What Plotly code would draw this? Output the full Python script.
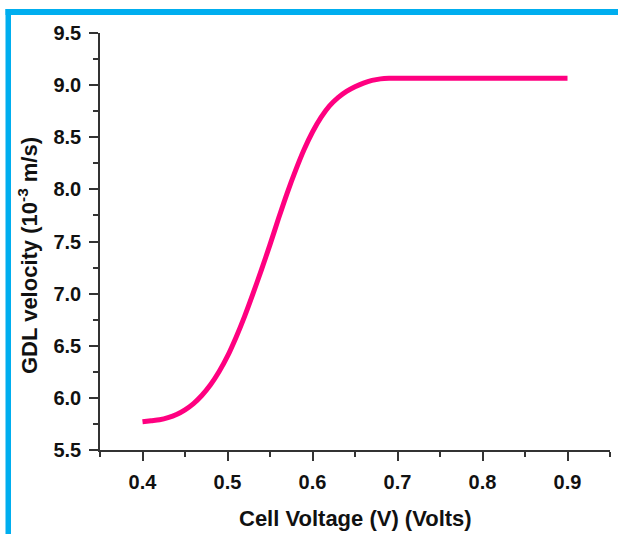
import plotly.graph_objects as go

voltage = [0.40, 0.41, 0.42, 0.43, 0.44, 0.45, 0.46, 0.47, 0.48, 0.49, 0.50, 0.51, 0.52,
           0.53, 0.54, 0.55, 0.56, 0.57, 0.58, 0.59, 0.60, 0.61, 0.62, 0.63, 0.64, 0.65,
           0.66, 0.67, 0.68, 0.69, 0.70, 0.75, 0.80, 0.85, 0.90]
velocity = [5.77, 5.78, 5.79, 5.81, 5.84, 5.885, 5.945, 6.025, 6.125, 6.25, 6.40, 6.58, 6.78,
            7.00, 7.23, 7.47, 7.72, 7.96, 8.18, 8.38, 8.55, 8.69, 8.80, 8.88, 8.94, 8.985,
            9.02, 9.045, 9.06, 9.066, 9.067, 9.067, 9.067, 9.067, 9.067]

x_ticks = [0.4, 0.5, 0.6, 0.7, 0.8, 0.9]
y_ticks = [5.5, 6.0, 6.5, 7.0, 7.5, 8.0, 8.5, 9.0, 9.5]

W, H = 618, 534
L, R, T, B = 100, 8, 33, 84
pw, ph = W - L - R, H - T - B

def px(xp):
    return (xp - L) / pw

def py(yp):
    return (H - B - yp) / ph

fig = go.Figure()
fig.add_trace(go.Scatter(x=voltage, y=velocity, mode="lines",
                         line=dict(color="#ff0080", width=5, shape="spline", smoothing=0.8),
                         showlegend=False, hoverinfo="skip"))

font_family = "Liberation Sans, Arial, sans-serif"
axis_common = dict(
    showline=True, linecolor="#333333", linewidth=1.5,
    ticks="outside", ticklen=9, tickwidth=1.5, tickcolor="#333333",
    showgrid=False, zeroline=False, mirror=False,
    tickfont=dict(family=font_family, size=20, color="#111111", weight="bold"),
    ticklabelstandoff=4,
    minor=dict(ticks="outside", ticklen=5, tickwidth=1.5, tickcolor="#333333", showgrid=False),
)

fig.update_xaxes(range=[0.35, 0.95], tickvals=x_ticks, ticktext=[f"{v:.1f}" for v in x_ticks],
                 minor_tickvals=[0.35, 0.45, 0.55, 0.65, 0.75, 0.85, 0.95],
                 **axis_common)
fig.update_yaxes(range=[5.5, 9.5], tickvals=y_ticks, ticktext=[f"{v:.1f}" for v in y_ticks],
                 minor_tickvals=[5.75, 6.25, 6.75, 7.25, 7.75, 8.25, 8.75, 9.25],
                 **axis_common)

title_font = dict(family=font_family, size=22, color="#111111", weight="bold")
fig.add_annotation(text="Cell Voltage (V) (Volts)", xref="paper", yref="paper",
                   x=px(355), y=py(518), xanchor="center", yanchor="middle",
                   showarrow=False, font=title_font)
fig.add_annotation(text="GDL velocity (10<sup>-3</sup> m/s)", xref="paper", yref="paper",
                   x=px(28), y=py(256), xanchor="center", yanchor="middle",
                   textangle=-90, showarrow=False, font=title_font)

# blue frame lines on top and left edges
fig.add_shape(type="rect", xref="paper", yref="paper",
              x0=px(5.5), x1=px(620), y0=py(9), y1=py(15),
              fillcolor="#00aeef", line=dict(width=0), layer="above")
fig.add_shape(type="rect", xref="paper", yref="paper",
              x0=px(5.5), x1=px(11), y0=py(9), y1=py(540),
              fillcolor="#00aeef", line=dict(width=0), layer="above")

fig.update_layout(width=W, height=H, margin=dict(l=L, r=R, t=T, b=B, autoexpand=False),
                  paper_bgcolor="white", plot_bgcolor="white")

fig.write_html("out.html", config={"displayModeBar": False},
               post_script="document.body.style.margin='0';")
